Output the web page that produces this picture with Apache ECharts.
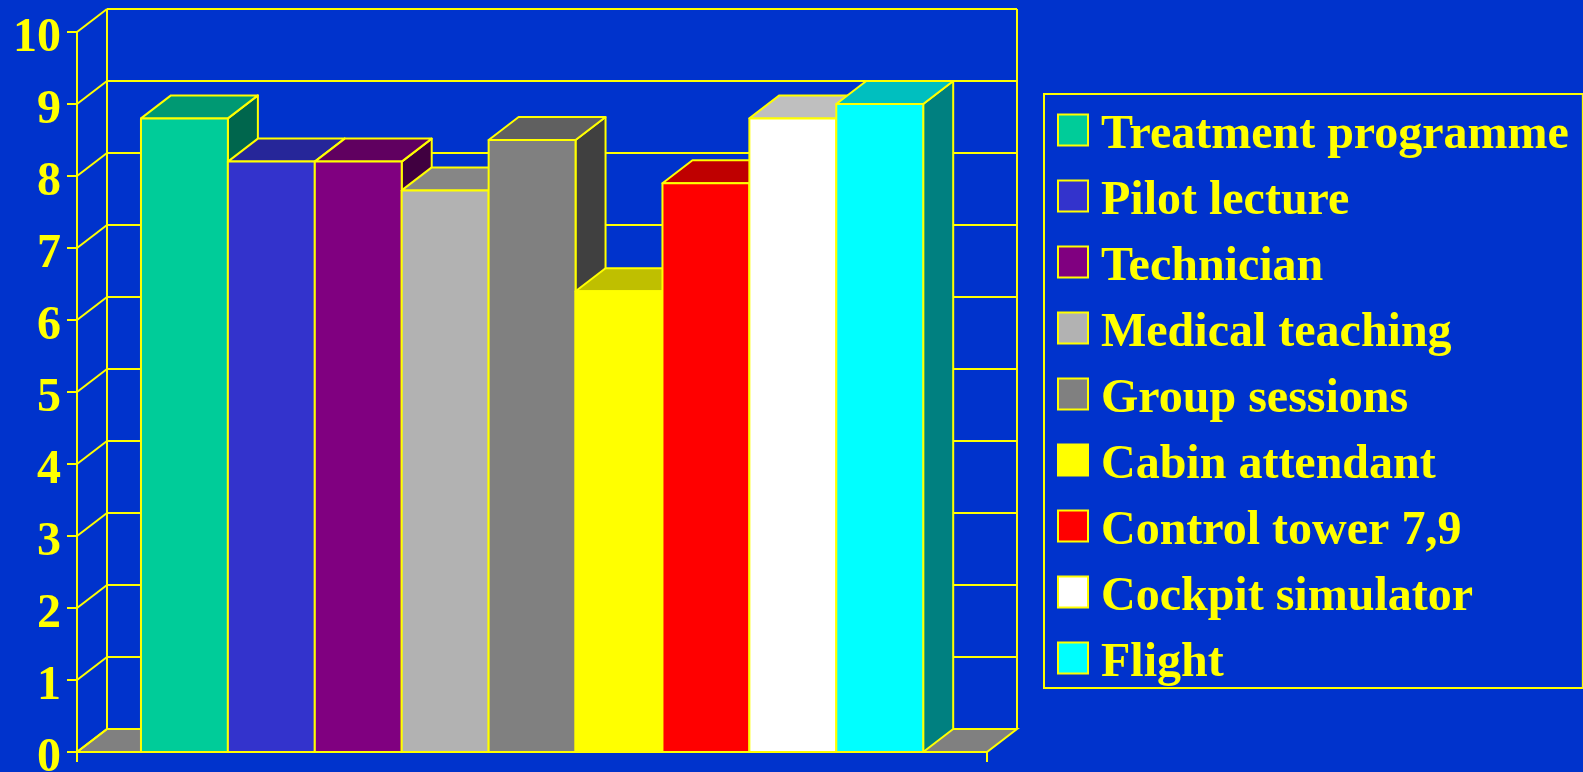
<!DOCTYPE html>
<html>
<head>
<meta charset="utf-8">
<title>Training ratings</title>
<script src="https://cdn.jsdelivr.net/npm/echarts@6/dist/echarts.min.js"></script>
<style>
  html, body { margin: 0; padding: 0; background: #0033CC; }
  #chart { width: 1583px; height: 772px; }
</style>
</head>
<body>
<div id="chart"></div>
<script>
// Ratings per training component (scale 0–10)
const categories = [
  'Treatment programme', 'Pilot lecture', 'Technician', 'Medical teaching',
  'Group sessions', 'Cabin attendant', 'Control tower 7,9', 'Cockpit simulator', 'Flight'
];
const scores = [8.8, 8.2, 8.2, 7.8, 8.5, 6.4, 7.9, 8.8, 9.0];
const barColors = [
  '#00CC99', '#3333CC', '#800080', '#B2B2B2',
  '#808080', '#FFFF00', '#FF0000', '#FFFFFF', '#00FFFF'
];
const yTicks = [0, 1, 2, 3, 4, 5, 6, 7, 8, 9, 10];

const LINE = '#FFFF00';
const FONT = '"Liberation Serif", "Times New Roman", serif';
const DX = 30, DY = 23;          // oblique depth of the box, in pixels

function shade(hex, k) {
  const n = parseInt(hex.slice(1), 16);
  const r = Math.round(((n >> 16) & 255) * k);
  const g = Math.round(((n >> 8) & 255) * k);
  const b = Math.round((n & 255) * k);
  return 'rgb(' + r + ',' + g + ',' + b + ')';
}

const chart = echarts.init(document.getElementById('chart'));

const X_MIN = -1.236, X_MAX = 9.234;
const Y_MAX = yTicks[yTicks.length - 1];

// back wall, side wall, floor and grid lines of the 3D box
function renderFrame(params, api) {
  const children = [];
  const lineStyle = { stroke: LINE, lineWidth: 2, fill: null };
  const fl = api.coord([X_MIN, 0]);
  const fr = api.coord([X_MAX, 0]);
  // floor
  children.push({
    type: 'polygon',
    shape: { points: [[fl[0], fl[1]], [fr[0], fr[1]], [fr[0] + DX, fr[1] - DY], [fl[0] + DX, fl[1] - DY]] },
    style: { fill: '#808080', stroke: LINE, lineWidth: 2 }
  });
  yTicks.forEach(function (v) {
    const a = api.coord([X_MIN, v]);
    const b = api.coord([X_MAX, v]);
    // back wall horizontal
    children.push({ type: 'line', shape: { x1: a[0] + DX, y1: a[1] - DY, x2: b[0] + DX, y2: b[1] - DY }, style: lineStyle });
    // side wall diagonal
    children.push({ type: 'line', shape: { x1: a[0], y1: a[1], x2: a[0] + DX, y2: a[1] - DY }, style: lineStyle });
  });
  const tl = api.coord([X_MIN, Y_MAX]);
  const tr = api.coord([X_MAX, Y_MAX]);
  // back wall verticals
  children.push({ type: 'line', shape: { x1: tl[0] + DX, y1: tl[1] - DY, x2: fl[0] + DX, y2: fl[1] - DY }, style: lineStyle });
  children.push({ type: 'line', shape: { x1: tr[0] + DX, y1: tr[1] - DY, x2: fr[0] + DX, y2: fr[1] - DY }, style: lineStyle });
  // front base edge and its end ticks
  children.push({ type: 'line', shape: { x1: fl[0], y1: fl[1], x2: fr[0], y2: fr[1] }, style: lineStyle });
  children.push({ type: 'line', shape: { x1: fl[0], y1: fl[1], x2: fl[0], y2: fl[1] + 10 }, style: lineStyle });
  children.push({ type: 'line', shape: { x1: fr[0], y1: fr[1], x2: fr[0], y2: fr[1] + 10 }, style: lineStyle });
  return { type: 'group', children: children };
}

// one 3D block: side, top, then front face
function renderBar(params, api) {
  const i = api.value(0);
  const v = api.value(1);
  const p0 = api.coord([i - 0.5, 0]);
  const p1 = api.coord([i + 0.5, v]);
  const front = barColors[params.seriesIndex - 1];
  const st = { stroke: LINE, lineWidth: 2, lineJoin: 'round' };
  return {
    type: 'group',
    children: [
      {
        type: 'polygon',
        shape: { points: [[p1[0], p1[1]], [p1[0] + DX, p1[1] - DY], [p1[0] + DX, p0[1] - DY], [p1[0], p0[1]]] },
        style: Object.assign({ fill: shade(front, 0.5) }, st)
      },
      {
        type: 'polygon',
        shape: { points: [[p0[0], p1[1]], [p1[0], p1[1]], [p1[0] + DX, p1[1] - DY], [p0[0] + DX, p1[1] - DY]] },
        style: Object.assign({ fill: shade(front, 0.75) }, st)
      },
      {
        type: 'rect',
        shape: { x: p0[0], y: p1[1], width: p1[0] - p0[0], height: p0[1] - p1[1] },
        style: Object.assign({ fill: front }, st)
      }
    ]
  };
}

const series = [{
  name: 'frame',
  type: 'custom',
  renderItem: renderFrame,
  data: [[0, 0]],
  z: 1,
  silent: true,
  legendHoverLink: false
}];
categories.forEach(function (name, i) {
  series.push({
    name: name,
    type: 'custom',
    renderItem: renderBar,
    itemStyle: { color: barColors[i] },
    data: [[i, scores[i]]],
    z: 2 + i
  });
});

chart.setOption({
  backgroundColor: '#0033CC',
  animation: false,
  grid: { left: 77, right: 596, top: 32, bottom: 20, outerBoundsMode: 'none', containLabel: false },
  xAxis: { type: 'value', min: X_MIN, max: X_MAX, show: false },
  yAxis: {
    type: 'value', min: 0, max: Y_MAX, interval: 1,
    axisLine: { show: true, onZero: false, lineStyle: { color: LINE, width: 2 } },
    axisTick: { show: true, length: 10, lineStyle: { color: LINE, width: 2 } },
    splitLine: { show: false },
    axisLabel: {
      color: LINE, fontFamily: FONT, fontWeight: 'bold', fontSize: 48,
      margin: 16, verticalAlign: 'top', lineHeight: 14
    },
    z: 20
  },
  legend: {
    data: categories,
    orient: 'vertical',
    left: 1044, top: 94,
    padding: [6, 14, 0, 13],
    borderColor: LINE, borderWidth: 2,
    itemWidth: 30, itemHeight: 31, itemGap: 6,
    icon: 'rect',
    itemStyle: { borderColor: LINE, borderWidth: 2 },
    selectedMode: false,
    formatter: '{t|{name}}',
    textStyle: {
      color: LINE, fontFamily: FONT, fontWeight: 'bold', fontSize: 48,
      padding: [0, 0, 0, 8],
      rich: {
        t: {
          color: LINE, fontFamily: FONT, fontWeight: 'bold', fontSize: 48,
          lineHeight: 38, padding: [12, 0, 0, 0]
        }
      }
    }
  },
  series: series
});
</script>
</body>
</html>
